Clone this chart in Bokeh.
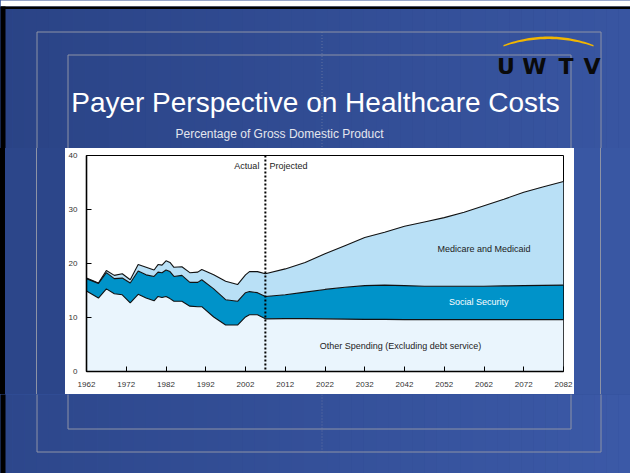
import numpy as np
from bokeh.plotting import figure
from bokeh.layouts import column, row
from bokeh.models import Range1d, ColumnDataSource, Label, Span, FixedTicker, Spacer
from bokeh.core.properties import value
from bokeh.embed import file_html
from bokeh.resources import INLINE

# ---------------- data (percent of GDP) ----------------
years = [1962, 1965, 1967, 1969, 1971, 1973, 1975, 1977, 1979, 1980,
         1981, 1982, 1983, 1984, 1986, 1988, 1990, 1991, 1994, 1997,
         2000, 2002, 2003, 2005, 2007, 2012, 2017, 2022, 2027, 2032,
         2037, 2042, 2047, 2052, 2057, 2062, 2067, 2072, 2077, 2082]
other_spending = [14.9, 13.6, 15.3, 14.4, 14.2, 12.7, 14.3, 13.6, 13.1, 13.9,
                  13.7, 13.9, 13.5, 13.0, 13.0, 12.1, 12.0, 12.0, 10.1, 8.6,
                  8.6, 10.1, 10.5, 10.5, 9.75, 9.8, 9.8, 9.75, 9.7, 9.65,
                  9.65, 9.6, 9.6, 9.6, 9.6, 9.6, 9.6, 9.6, 9.6, 9.6]
social_security = [2.3, 2.7, 3.0, 2.8, 3.1, 3.7, 4.3, 4.3, 4.5, 4.5,
                   4.6, 4.9, 5.0, 4.6, 4.8, 4.4, 4.5, 5.0, 5.2, 4.7,
                   4.4, 4.5, 4.3, 4.1, 4.15, 4.4, 4.9, 5.45, 5.9, 6.25,
                   6.35, 6.3, 6.2, 6.2, 6.2, 6.2, 6.25, 6.3, 6.35, 6.4]
medicare_medicaid = [0.1, 0.1, 0.4, 0.6, 0.8, 0.6, 1.2, 1.4, 1.2, 1.4,
                     1.4, 1.7, 1.7, 1.7, 1.6, 1.8, 1.9, 1.9, 2.6, 3.4,
                     3.1, 3.3, 3.7, 3.9, 4.2, 4.8, 5.5, 6.6, 7.7, 8.9,
                     9.8, 11.0, 11.9, 12.7, 13.7, 14.9, 16.05, 17.3, 18.25, 19.2]
projection_start = 2007
x_ticks = [1962, 1972, 1982, 1992, 2002, 2012, 2022, 2032, 2042, 2052, 2062, 2072, 2082]
y_ticks = [0, 10, 20, 30, 40]

title_text = "Payer Perspective on Healthcare Costs"
subtitle_text = "Percentage of Gross Domestic Product"
logo_letters = ["U", "W", "T", "V"]
series_labels = ["Other Spending (Excluding debt service)", "Social Security", "Medicare and Medicaid"]

# ---------------- geometry (page pixels, y down) ----------------
W, H = 630, 473
PL, PR, PT, PB = 65, 574, 148, 394          # white chart panel
FL, FR, FT, FB = 86, 563, 155, 371          # plot frame
FONT = "Liberation Sans"
GREY = "#8d93a6"
BLUE = "#33509a"

c0 = np.array([42, 67, 133])
c1 = np.array([60, 90, 168])
def shade(x, y=0):
    t = min(max(0.8 * x / W + 0.2 * y / H, 0), 1)
    r, g, b = (c0 + (c1 - c0) * t).astype(int)
    return "#%02x%02x%02x" % (r, g, b)

def deco(x0, x1, y0, y1):
    f = figure(width=int(x1 - x0), height=int(y1 - y0),
               x_range=Range1d(x0, x1), y_range=Range1d(y1, y0),
               output_backend="svg", toolbar_location=None,
               x_axis_type=None, y_axis_type=None, min_border=0,
               styles={"background-color": BLUE})
    f.outline_line_color = None
    f.background_fill_color = shade((x0 + x1) / 2, (y0 + y1) / 2)
    f.border_fill_color = f.background_fill_color
    n = max(1, int((x1 - x0) / 12))
    e = np.linspace(x0, x1, n + 1)
    f.quad(left=e[:-1], right=e[1:], top=y0 - 1, bottom=y1 + 1,
           fill_color=[shade((e[i] + e[i + 1]) / 2, (y0 + y1) / 2) for i in range(n)],
           line_color=None)
    return f

def segs(f, x0s, y0s, x1s, y1s, **kw):
    f.segment(x0=x0s, y0=y0s, x1=x1s, y1=y1s, **kw)

# ---- top band ----
top = deco(0, W, 0, PT)
top.quad(left=[0, 0], right=[W, W], top=[-1, 6], bottom=[6, 8.5],
         fill_color=["white", "black"], line_color=None)
top.quad(left=[-1], right=[5], top=[6], bottom=[PT + 1], fill_color="black", line_color=None)
segs(top, [36.5, 36.5, 600.5, 67.5, 67.5, 570.5],
          [31.5, 31.5, 31.5, 54.5, 54.5, 54.5],
          [600.5, 36.5, 600.5, 570.5, 67.5, 570.5],
          [31.5, PT + 1, PT + 1, 54.5, PT + 1, PT + 1], line_color=GREY, line_width=1)
top.segment(x0=[321.5], y0=[31.5], x1=[321.5], y1=[PT], line_color="#7f88a8",
            line_alpha=0.6, line_dash="1 2", line_width=1)
ax_ = np.linspace(503, 593, 40)
u = (ax_ - 548) / 45
arc_top = 36 + 8.5 * u ** 2
arc_bot = arc_top + 2.6 - 1.2 * u ** 2
top.patch(list(ax_) + list(ax_[::-1]), list(arc_top) + list(arc_bot[::-1]),
          fill_color="#F2B600", line_color=None)
top.text(x=[505.5, 534, 565.5, 591.5], y=[66] * 4, text=logo_letters,
         text_font=value("DejaVu Sans"), text_font_style="bold",
         text_font_size="22px", text_color="#0a0a0a",
         text_align="center", text_baseline="alphabetic")
top.text(x=[70.7], y=[101.7], text=[title_text], text_font=value(FONT),
         text_font_size="28px", text_color="white",
         text_align="left", text_baseline="alphabetic")
top.text(x=[175], y=[133.3], text=[subtitle_text], text_font=value(FONT),
         text_font_size="12px", text_color="#e4e6ee",
         text_align="left", text_baseline="middle")

# ---- side strips (plain blocks, no plot frame) ----
cl = shade(PL / 2, (PT + PB) / 2)
cr = shade((PR + W) / 2, (PT + PB) / 2)
left = Spacer(width=PL, height=PB - PT, styles={
    "background": f"linear-gradient(to right, #000 0px, #000 5px, {cl} 5px, {cl} 36px, "
                  f"{GREY} 36px, {GREY} 37px, {cl} 37px, {cl} 100%)"})
right = Spacer(width=W - PR, height=PB - PT, styles={
    "background": f"linear-gradient(to right, {cr} 0px, {cr} 26px, {GREY} 26px, "
                  f"{GREY} 27px, {cr} 27px, {cr} 100%)"})

# ---- bottom band ----
bottom = deco(0, W, PB, H)
bottom.quad(left=[-1], right=[5], top=[PB - 1], bottom=[H + 1], fill_color="black", line_color=None)
segs(bottom, [36.5, 600.5, 36.5, 67.5, 570.5, 67.5],
             [PB - 1, PB - 1, 451.5, PB - 1, PB - 1, 428.5],
             [36.5, 600.5, 600.5, 67.5, 570.5, 570.5],
             [451.5, 451.5, 451.5, 428.5, 428.5, 428.5],
     line_color=GREY, line_width=1)
bottom.segment(x0=[321.5], y0=[PB], x1=[321.5], y1=[451.5], line_color="#7f88a8",
               line_alpha=0.6, line_dash="1 2", line_width=1)

# ---- chart ----
cw, ch = PR - PL, PB - PT
p = figure(width=cw, height=ch, output_backend="svg", toolbar_location=None,
           x_range=Range1d(1962, 2082), y_range=Range1d(0, 40),
           min_border_left=FL - PL, min_border_right=PR - FR,
           min_border_top=FT - PT, min_border_bottom=PB - FB,
           styles={"background-color": "white"})
p.border_fill_color = "white"
p.background_fill_color = "white"
p.outline_line_color = "black"
p.outline_line_width = 1
p.grid.visible = False

src = ColumnDataSource(dict(year=years, other=other_spending,
                            ss=social_security, med=medicare_medicaid))
stack = ["other", "ss", "med"]
p.varea_stack(stack, x="year", source=src,
              color=["#EAF5FD", "#0093C9", "#B9E0F6"])
p.vline_stack(stack, x="year", source=src, color="#111111", line_width=1.1)

p.add_layout(Span(location=projection_start, dimension="height",
                  line_color="black", line_width=2, line_dash="2 2"))

for a in (p.xaxis[0], p.yaxis[0]):
    a.axis_line_color = "black"
    a.axis_line_width = 1.6
    a.major_tick_in = 5
    a.major_tick_out = 0
    a.major_tick_line_color = "black"
    a.minor_tick_line_color = None
    a.major_label_text_font = FONT
    a.major_label_text_font_size = "8px"
    a.major_label_text_color = "#333333"
p.xaxis.ticker = FixedTicker(ticks=x_ticks)
p.yaxis.ticker = FixedTicker(ticks=y_ticks)
p.yaxis.major_label_standoff = 9
p.xaxis.major_label_standoff = 10

def dlabel(x, y, text, color="#222222", align="center", xoff=0):
    p.add_layout(Label(x=x, y=y, text=text, text_font=FONT,
                       text_font_size="9px", text_color=color,
                       text_align=align, text_baseline="middle", x_offset=xoff))

dlabel(projection_start, 38.1, "Actual", align="right", xoff=-6)
dlabel(projection_start, 38.1, "Projected", align="left", xoff=4)
dlabel(2062, 22.6, series_labels[2])
dlabel(2060.7, 12.8, series_labels[1], color="white")
dlabel(2041, 4.7, series_labels[0])

middle = row(left, p, right, spacing=0, styles={"background-color": BLUE})
layout = column(top, middle, bottom, spacing=0, styles={"background-color": BLUE})
open("out.html", "w").write(file_html(layout, INLINE))
